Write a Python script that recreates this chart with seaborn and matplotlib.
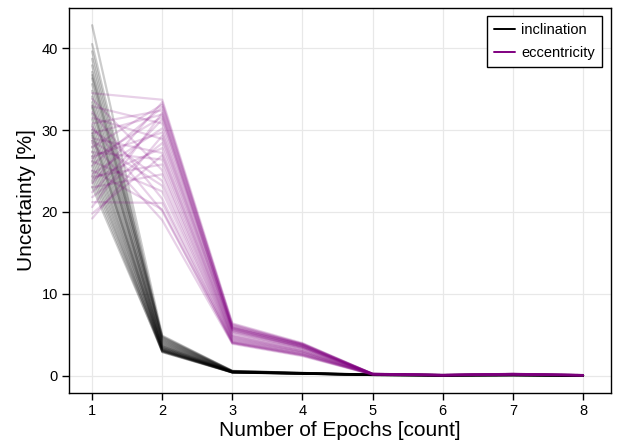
import numpy as np
import pandas as pd
import matplotlib
matplotlib.use("Agg")
import matplotlib.pyplot as plt
from matplotlib.lines import Line2D
import seaborn as sns

epochs = [1, 2, 3, 4, 5, 6, 7, 8]

# Inclination uncertainty [%] for each simulated run, one list per epoch count
incl_e1 = [42.8, 40.5, 39.6, 38.7, 37.9, 37.1, 36.3, 35.6, 34.8, 34.1, 33.4, 32.7, 32.0,
           31.3, 30.6, 30.0, 29.3, 28.7, 28.0, 27.4, 26.8, 26.2, 25.6, 25.0, 24.4, 23.8,
           23.1, 36.7, 33.0, 29.6]
incl_e2 = [4.9, 4.7, 4.5, 4.6, 4.3, 4.4, 4.1, 4.2, 3.9, 4.0, 3.7, 3.8, 3.6, 3.5, 3.4,
           3.3, 3.4, 3.2, 3.1, 3.3, 3.0, 3.1, 2.9, 3.0, 3.1, 2.9, 3.0, 4.8, 3.6, 3.2]
incl_e3 = [0.60, 0.58, 0.55, 0.57, 0.52, 0.54, 0.50, 0.52, 0.48, 0.50, 0.47, 0.49, 0.46,
           0.45, 0.47, 0.44, 0.46, 0.43, 0.42, 0.44, 0.41, 0.43, 0.40, 0.42, 0.41, 0.40,
           0.42, 0.59, 0.48, 0.45]
incl_e4 = [0.35, 0.34, 0.33, 0.34, 0.32, 0.33, 0.31, 0.32, 0.30, 0.31, 0.29, 0.30, 0.29,
           0.28, 0.29, 0.28, 0.29, 0.27, 0.27, 0.28, 0.26, 0.27, 0.26, 0.27, 0.26, 0.25,
           0.26, 0.35, 0.30, 0.28]
incl_e5 = [0.15, 0.14, 0.14, 0.14, 0.13, 0.13, 0.13, 0.13, 0.12, 0.12, 0.12, 0.12, 0.12,
           0.11, 0.12, 0.11, 0.11, 0.11, 0.11, 0.11, 0.10, 0.11, 0.10, 0.10, 0.10, 0.10,
           0.10, 0.14, 0.12, 0.11]
incl_e6 = [0.09, 0.09, 0.08, 0.09, 0.08, 0.08, 0.08, 0.08, 0.07, 0.08, 0.07, 0.07, 0.07,
           0.07, 0.07, 0.07, 0.07, 0.06, 0.06, 0.07, 0.06, 0.06, 0.06, 0.06, 0.06, 0.06,
           0.06, 0.09, 0.07, 0.07]
incl_e7 = [0.12, 0.12, 0.11, 0.11, 0.11, 0.11, 0.10, 0.11, 0.10, 0.10, 0.10, 0.10, 0.10,
           0.09, 0.10, 0.09, 0.09, 0.09, 0.09, 0.09, 0.09, 0.09, 0.08, 0.09, 0.08, 0.08,
           0.08, 0.12, 0.10, 0.09]
incl_e8 = [0.06, 0.06, 0.06, 0.06, 0.05, 0.06, 0.05, 0.05, 0.05, 0.05, 0.05, 0.05, 0.05,
           0.05, 0.05, 0.05, 0.05, 0.05, 0.04, 0.05, 0.04, 0.04, 0.04, 0.04, 0.04, 0.04,
           0.04, 0.06, 0.05, 0.05]

# Eccentricity uncertainty [%] for each simulated run, one list per epoch count
ecc_e1 = [34.5, 33.8, 32.9, 32.2, 31.5, 30.8, 30.1, 29.6, 29.0, 28.4, 27.9, 27.3, 26.8,
          26.2, 25.7, 25.1, 24.6, 24.0, 23.5, 23.0, 22.4, 21.8, 21.2, 20.6, 19.8, 19.2,
          28.7, 26.5, 24.3, 30.4]
ecc_e2 = [33.7, 25.1, 30.8, 21.6, 28.9, 32.4, 23.8, 31.9, 27.2, 19.0, 33.1, 26.4, 29.7,
          22.5, 32.8, 20.3, 30.2, 27.8, 33.4, 24.6, 31.3, 28.4, 21.1, 32.1, 26.9, 29.3,
          23.2, 31.6, 25.8, 20.1]
ecc_e3 = [6.4, 4.6, 5.9, 4.1, 5.5, 6.2, 4.4, 5.8, 5.0, 3.9, 6.3, 4.8, 5.6, 4.2, 6.1,
          4.0, 5.7, 5.2, 6.0, 4.5, 5.9, 5.3, 4.1, 5.8, 4.9, 5.4, 4.3, 5.6, 4.7, 4.0]
ecc_e4 = [4.0, 3.0, 3.8, 2.6, 3.6, 3.9, 2.8, 3.7, 3.3, 2.4, 3.9, 3.1, 3.5, 2.7, 3.8,
          2.5, 3.6, 3.4, 3.9, 2.9, 3.7, 3.4, 2.6, 3.8, 3.2, 3.5, 2.8, 3.6, 3.0, 2.5]
ecc_e5 = [0.25, 0.19, 0.23, 0.17, 0.22, 0.24, 0.18, 0.23, 0.20, 0.15, 0.24, 0.19, 0.22,
          0.17, 0.24, 0.16, 0.22, 0.21, 0.24, 0.18, 0.23, 0.21, 0.16, 0.23, 0.20, 0.21,
          0.17, 0.22, 0.19, 0.16]
ecc_e6 = [0.10, 0.08, 0.09, 0.07, 0.09, 0.10, 0.08, 0.09, 0.08, 0.06, 0.10, 0.08, 0.09,
          0.07, 0.10, 0.07, 0.09, 0.08, 0.10, 0.08, 0.09, 0.08, 0.07, 0.09, 0.08, 0.09,
          0.07, 0.09, 0.08, 0.07]
ecc_e7 = [0.24, 0.18, 0.22, 0.16, 0.21, 0.23, 0.17, 0.22, 0.19, 0.14, 0.23, 0.18, 0.21,
          0.16, 0.23, 0.15, 0.21, 0.20, 0.23, 0.17, 0.22, 0.20, 0.15, 0.22, 0.19, 0.20,
          0.16, 0.21, 0.18, 0.15]
ecc_e8 = [0.09, 0.07, 0.08, 0.06, 0.08, 0.09, 0.07, 0.08, 0.07, 0.05, 0.09, 0.07, 0.08,
          0.06, 0.09, 0.06, 0.08, 0.07, 0.09, 0.07, 0.08, 0.07, 0.06, 0.08, 0.07, 0.08,
          0.06, 0.08, 0.07, 0.06]

incl_runs = [incl_e1, incl_e2, incl_e3, incl_e4, incl_e5, incl_e6, incl_e7, incl_e8]
ecc_runs = [ecc_e1, ecc_e2, ecc_e3, ecc_e4, ecc_e5, ecc_e6, ecc_e7, ecc_e8]

parameters = ["inclination", "eccentricity"]
colors = {"inclination": "#000000", "eccentricity": "#800080"}
line_alpha = {"inclination": 0.2, "eccentricity": 0.18}


def to_long(name, per_epoch):
    rows = []
    for epoch, values in zip(epochs, per_epoch):
        for run, v in enumerate(values):
            rows.append({"parameter": name, "run": f"{name}-{run}", "epoch": epoch,
                         "uncertainty": v})
    return rows


df = pd.DataFrame(to_long("inclination", incl_runs) + to_long("eccentricity", ecc_runs))

sns.set_theme(style="white")
plt.rcParams["font.family"] = ["Liberation Sans", "DejaVu Sans"]
plt.rcParams["text.color"] = "black"
plt.rcParams["axes.labelcolor"] = "black"

fig = plt.figure(figsize=(6.21, 4.47), dpi=100)
ax = fig.add_axes([69 / 621, 1 - 393 / 447, 542 / 621, 385 / 447])

for name in parameters:
    sns.lineplot(data=df[df["parameter"] == name], x="epoch", y="uncertainty",
                 units="run", estimator=None, color=colors[name], alpha=line_alpha[name],
                 linewidth=1.6, ax=ax, legend=False, sort=False)

ax.set_xlim(0.67, 8.4)
ax.set_ylim(-2.1, 44.9)
ax.set_xticks(epochs)
ax.set_yticks([0, 10, 20, 30, 40])
ax.grid(True, color="#e8e8e8", linewidth=0.9)
ax.set_axisbelow(True)
for s in ax.spines.values():
    s.set_visible(True)
    s.set_color("black")
    s.set_linewidth(1.0)
ax.tick_params(axis="both", direction="out", length=5, width=1, color="black",
               labelcolor="black", labelsize=10.5, pad=3, bottom=True, left=True)
ax.set_xlabel("Number of Epochs [count]", fontsize=15, labelpad=2)
ax.set_ylabel("Uncertainty [%]", fontsize=15, labelpad=4)

handles = [Line2D([0], [0], color=colors[n], linewidth=1.4) for n in parameters]
leg = ax.legend(handles, parameters, loc="upper right", fontsize=10.5, frameon=True,
                fancybox=False, edgecolor="black", framealpha=1, borderpad=0.5,
                borderaxespad=0.0, handlelength=1.4, handletextpad=0.45,
                labelspacing=0.6, bbox_to_anchor=(0.984, 0.979))
leg.get_frame().set_linewidth(1.0)

fig.savefig("out.png", dpi=100)
